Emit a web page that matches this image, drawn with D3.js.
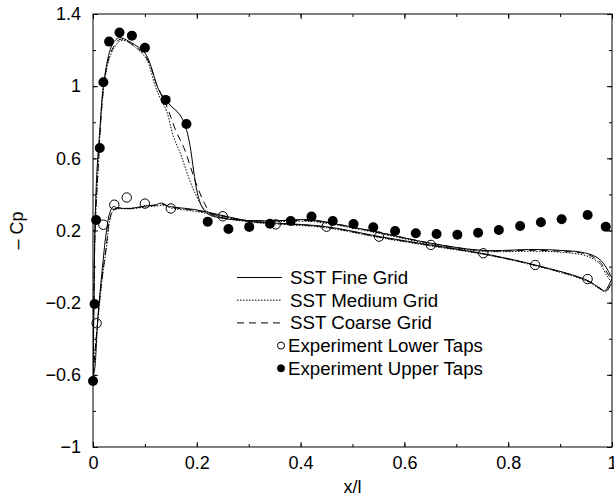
<!DOCTYPE html>
<html>
<head>
<meta charset="utf-8">
<script src="https://cdn.jsdelivr.net/npm/d3@7"></script>
<style>
	body { margin: 0; background: #fff; }
	text { font-family: "Liberation Sans", Arial, sans-serif; fill: #000; }
</style>
</head>
<body>
<div id="cp_chart"></div>
<script>

// Tick values:
var xTicks = [0, 0.2, 0.4, 0.6, 0.8, 1];
var yTicks = [-1, -0.6, -0.2, 0.2, 0.6, 1, 1.4];

// SST fine grid (upper and lower surface):
var xUpperFine = [0.000, 0.002, 0.004, 0.008, 0.013, 0.018, 0.024, 0.030, 0.037, 0.045, 0.052, 0.065, 0.080, 0.095, 0.105, 0.115, 0.125, 0.138, 0.150, 0.162, 0.172, 0.180, 0.187, 0.194, 0.201, 0.210, 0.222, 0.245, 0.300, 0.360, 0.420, 0.460, 0.550, 0.650, 0.750, 0.850, 0.900, 0.940, 0.965, 0.980, 0.992, 1.000];
var cpUpperFine = [-0.60, -0.20, 0.25, 0.55, 0.75, 0.95, 1.08, 1.17, 1.23, 1.26, 1.27, 1.255, 1.23, 1.20, 1.16, 1.08, 0.99, 0.93, 0.89, 0.86, 0.82, 0.76, 0.67, 0.53, 0.41, 0.33, 0.29, 0.27, 0.255, 0.255, 0.26, 0.24, 0.19, 0.13, 0.09, 0.095, 0.09, 0.08, 0.06, 0.03, -0.02, -0.065];
var xLowerFine = [0.000, 0.002, 0.010, 0.019, 0.026, 0.032, 0.039, 0.048, 0.074, 0.100, 0.119, 0.132, 0.145, 0.155, 0.200, 0.245, 0.283, 0.309, 0.360, 0.450, 0.553, 0.649, 0.752, 0.852, 0.951, 0.977, 0.986, 1.000];
var cpLowerFine = [-0.60, -0.59, -0.26, 0.02, 0.20, 0.295, 0.332, 0.325, 0.323, 0.336, 0.341, 0.352, 0.335, 0.330, 0.314, 0.286, 0.262, 0.249, 0.240, 0.221, 0.166, 0.120, 0.072, 0.009, -0.074, -0.12, -0.134, -0.065];

// SST medium grid:
var xUpperMedium = [0.000, 0.004, 0.010, 0.016, 0.022, 0.030, 0.040, 0.052, 0.065, 0.080, 0.095, 0.105, 0.120, 0.130, 0.142, 0.155, 0.168, 0.180, 0.193, 0.209, 0.222, 0.250, 0.300, 0.360, 0.420, 0.460, 0.550, 0.650, 0.750, 0.850, 0.900, 0.950, 0.975, 0.990, 1.000];
var cpUpperMedium = [-0.60, 0.20, 0.55, 0.85, 1.02, 1.14, 1.21, 1.25, 1.25, 1.22, 1.18, 1.14, 1.00, 0.93, 0.86, 0.72, 0.63, 0.53, 0.43, 0.34, 0.30, 0.27, 0.25, 0.25, 0.25, 0.235, 0.185, 0.125, 0.085, 0.085, 0.08, 0.06, 0.02, -0.05, -0.09];
var xLowerMedium = [0.000, 0.006, 0.016, 0.026, 0.032, 0.039, 0.048, 0.074, 0.100, 0.120, 0.135, 0.150, 0.200, 0.245, 0.283, 0.309, 0.360, 0.450, 0.553, 0.649, 0.752, 0.852, 0.951, 0.977, 0.988, 1.000];
var cpLowerMedium = [-0.60, -0.40, -0.11, 0.11, 0.25, 0.31, 0.32, 0.32, 0.33, 0.335, 0.34, 0.325, 0.305, 0.28, 0.258, 0.245, 0.235, 0.215, 0.16, 0.115, 0.068, 0.005, -0.08, -0.125, -0.14, -0.09];

// SST coarse grid:
var xUpperCoarse = [0.000, 0.004, 0.010, 0.016, 0.022, 0.030, 0.040, 0.052, 0.065, 0.080, 0.095, 0.110, 0.120, 0.130, 0.142, 0.160, 0.175, 0.187, 0.200, 0.215, 0.228, 0.250, 0.300, 0.360, 0.420, 0.460, 0.550, 0.650, 0.750, 0.850, 0.900, 0.950, 0.975, 0.990, 1.000];
var cpUpperCoarse = [-0.60, 0.20, 0.55, 0.85, 1.03, 1.15, 1.22, 1.26, 1.25, 1.22, 1.19, 1.12, 1.03, 0.96, 0.89, 0.75, 0.66, 0.56, 0.45, 0.35, 0.29, 0.27, 0.255, 0.255, 0.255, 0.24, 0.19, 0.13, 0.088, 0.09, 0.085, 0.07, 0.03, -0.03, -0.08];
var xLowerCoarse = [0.000, 0.006, 0.016, 0.026, 0.032, 0.039, 0.048, 0.074, 0.100, 0.120, 0.135, 0.150, 0.200, 0.245, 0.283, 0.309, 0.360, 0.450, 0.553, 0.649, 0.752, 0.852, 0.951, 0.977, 0.988, 1.000];
var cpLowerCoarse = [-0.60, -0.40, -0.10, 0.12, 0.26, 0.315, 0.325, 0.322, 0.335, 0.34, 0.345, 0.33, 0.31, 0.283, 0.26, 0.247, 0.238, 0.218, 0.163, 0.118, 0.07, 0.007, -0.077, -0.122, -0.137, -0.08];

// Experiment, lower taps (open circles):
var xLowerTaps = [0.007, 0.020, 0.041, 0.065, 0.100, 0.150, 0.250, 0.352, 0.450, 0.551, 0.651, 0.752, 0.852, 0.953];
var cpLowerTaps = [-0.314, 0.232, 0.343, 0.383, 0.349, 0.322, 0.279, 0.234, 0.221, 0.166, 0.120, 0.074, 0.009, -0.069];

// Experiment, upper taps (filled circles):
var xUpperTaps = [0.000, 0.003, 0.006, 0.013, 0.020, 0.031, 0.051, 0.075, 0.100, 0.140, 0.180, 0.221, 0.261, 0.301, 0.341, 0.381, 0.421, 0.462, 0.502, 0.540, 0.582, 0.622, 0.662, 0.702, 0.742, 0.782, 0.823, 0.863, 0.903, 0.953, 0.988];
var cpUpperTaps = [-0.634, -0.207, 0.258, 0.657, 1.022, 1.247, 1.297, 1.280, 1.213, 0.924, 0.790, 0.249, 0.208, 0.220, 0.237, 0.253, 0.277, 0.253, 0.236, 0.218, 0.197, 0.185, 0.181, 0.177, 0.188, 0.203, 0.225, 0.246, 0.262, 0.286, 0.221];

// Legend labels:
var legendLabels = ["SST Fine Grid", "SST Medium Grid", "SST Coarse Grid", "Experiment Lower Taps", "Experiment Upper Taps"];

function zip(xs, ys)
{
	return xs.map(function(x, i){ return [x, ys[i]]; });
}

var chartProperties = {
	width : 614,
	height : 497,
	margin : {left : 93, top : 14, right : 2, bottom : 50}
};

var plotWidth = chartProperties.width - chartProperties.margin.left - chartProperties.margin.right;
var plotHeight = chartProperties.height - chartProperties.margin.top - chartProperties.margin.bottom;

// Create the SVG:
var svg = d3.select("#cp_chart")
	.append("svg")
	.attr("width", chartProperties.width)
	.attr("height", chartProperties.height);

var plot = svg.append("g")
	.attr("transform", "translate(" + chartProperties.margin.left + "," + chartProperties.margin.top + ")");

// Create the scales:
var xScale = d3.scaleLinear().domain([0, 1]).range([0, plotWidth]);
var yScale = d3.scaleLinear().domain([-1, 1.4]).range([plotHeight, 0]);

plot.append("clipPath")
	.attr("id", "plotClip")
	.append("rect")
	.attr("width", plotWidth)
	.attr("height", plotHeight);

// Axes with inward ticks on all four sides:
var xMinor = d3.range(0, 1.0001, 0.1);
var yMinor = d3.range(-1, 1.4001, 0.2);

function drawAxis(axisFn, scale, major, minor, transform, withLabels)
{
	var g = plot.append("g").attr("transform", transform);
	g.call(axisFn(scale).tickValues(minor).tickSize(-3).tickFormat(""));
	var gm = plot.append("g").attr("transform", transform);
	gm.call(axisFn(scale).tickValues(major).tickSize(-5).tickPadding(withLabels ? 17 : 0)
		.tickFormat(withLabels ? function(d){ return d3.format("")(+d.toFixed(1)).replace("-", "\u2212"); } : ""));
	[g, gm].forEach(function(s){
		s.select(".domain").remove();
		s.selectAll("line").attr("stroke", "#000").attr("stroke-width", 1);
		s.selectAll("text").attr("font-size", "18px").attr("font-family", "Liberation Sans, Arial, sans-serif");
	});
	return gm;
}

var xAxisBottom = drawAxis(d3.axisBottom, xScale, xTicks, xMinor, "translate(0," + plotHeight + ")", true);
xAxisBottom.selectAll("text").attr("dy", "0.71em").attr("y", 9);
drawAxis(d3.axisTop, xScale, xTicks, xMinor, "translate(0,0)", false);
var yAxisLeft = drawAxis(d3.axisLeft, yScale, yTicks, yMinor, "translate(0,0)", true);
yAxisLeft.selectAll("text").attr("x", -12);
drawAxis(d3.axisRight, yScale, yTicks, yMinor, "translate(" + plotWidth + ",0)", false);

// Frame:
plot.append("rect")
	.attr("width", plotWidth)
	.attr("height", plotHeight)
	.attr("fill", "none")
	.attr("stroke", "#000")
	.attr("stroke-width", 1);

// Axis labels:
svg.append("text")
	.attr("x", chartProperties.margin.left + plotWidth / 2)
	.attr("y", 493)
	.attr("font-size", "18px")
	.attr("text-anchor", "middle")
	.text("x/l");

svg.append("text")
	.attr("transform", "translate(23," + (chartProperties.margin.top + plotHeight / 2) + ") rotate(-90)")
	.attr("font-size", "18px")
	.attr("text-anchor", "middle")
	.text("\u2013 Cp");

// CFD curves:
var line = d3.line()
	.x(function(d){ return xScale(d[0]); })
	.y(function(d){ return yScale(d[1]); })
	.curve(d3.curveCatmullRom.alpha(0.5));

var curves = [
	{ dash : null,    data : [zip(xUpperFine, cpUpperFine), zip(xLowerFine, cpLowerFine)] },
	{ dash : "1.5,1.5", data : [zip(xUpperMedium, cpUpperMedium), zip(xLowerMedium, cpLowerMedium)] },
	{ dash : "7,5",   data : [zip(xUpperCoarse, cpUpperCoarse), zip(xLowerCoarse, cpLowerCoarse)] }
];

var curveGroup = plot.append("g").attr("clip-path", "url(#plotClip)");

curves.forEach(function(c){
	c.data.forEach(function(pts){
		curveGroup.append("path")
			.datum(pts)
			.attr("d", line)
			.attr("fill", "none")
			.attr("stroke", "#000")
			.attr("stroke-width", 1)
			.attr("stroke-dasharray", c.dash);
	});
});

// Experiment points:
plot.append("g")
	.selectAll("circle")
	.data(zip(xLowerTaps, cpLowerTaps))
	.enter()
	.append("circle")
	.attr("cx", function(d){ return xScale(d[0]); })
	.attr("cy", function(d){ return yScale(d[1]); })
	.attr("r", 4.7)
	.attr("fill", "none")
	.attr("stroke", "#000")
	.attr("stroke-width", 1);

plot.append("g")
	.selectAll("circle")
	.data(zip(xUpperTaps, cpUpperTaps))
	.enter()
	.append("circle")
	.attr("cx", function(d){ return xScale(d[0]); })
	.attr("cy", function(d){ return yScale(d[1]); })
	.attr("r", 5)
	.attr("fill", "#000");

// Legend:
var legend = svg.append("g").attr("transform", "translate(0,277.5)");
var rowStep = 22.7;

legendLabels.forEach(function(label, i){
	var row = legend.append("g").attr("transform", "translate(0," + (i * rowStep) + ")");
	if (i < 3) {
		row.append("line")
			.attr("x1", 237).attr("x2", 282)
			.attr("stroke", "#000")
			.attr("stroke-width", 1)
			.attr("stroke-dasharray", curves[i].dash);
		row.append("text")
			.attr("x", 290)
			.attr("dy", "0.35em")
			.attr("font-size", "18.7px")
			.text(label);
	} else {
		row.append("circle")
			.attr("cx", 281)
			.attr("r", 3.5)
			.attr("fill", i == 3 ? "none" : "#000")
			.attr("stroke", "#000")
			.attr("stroke-width", 1);
		row.append("text")
			.attr("x", 288)
			.attr("dy", "0.35em")
			.attr("font-size", "18.7px")
			.text(label);
	}
});

</script>
</body>
</html>
